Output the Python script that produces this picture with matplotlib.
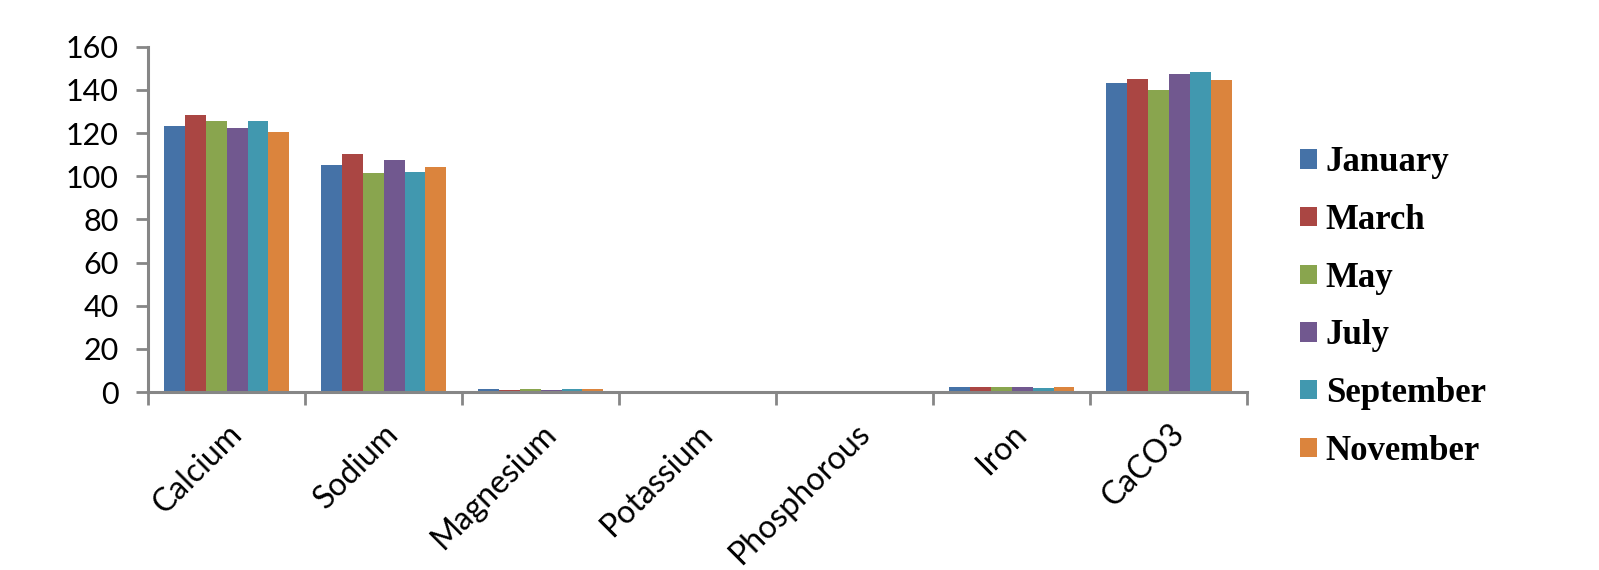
import matplotlib
matplotlib.use("Agg")
import matplotlib.pyplot as plt
import numpy as np

# categories and monthly values
minerals = ["Calcium", "Sodium", "Magnesium", "Potassium", "Phosphorous", "Iron", "CaCO3"]
months = ["January", "March", "May", "July", "September", "November"]

january = [123.1, 105.0, 1.3, 0.1, 0.1, 2.5, 143.3]
march = [128.6, 110.4, 1.2, 0.1, 0.1, 2.3, 145.2]
may = [125.7, 101.4, 1.5, 0.1, 0.1, 2.3, 140.1]
july = [122.4, 107.7, 1.0, 0.1, 0.1, 2.5, 147.4]
september = [125.8, 102.2, 1.4, 0.1, 0.1, 1.9, 148.5]
november = [120.3, 104.3, 1.3, 0.1, 0.1, 2.2, 144.7]

series = [january, march, may, july, september, november]
colors = ["#4572A7", "#AA4643", "#89A54E", "#71588F", "#4198AF", "#DB843D"]

fig = plt.figure(figsize=(15.99, 5.70), dpi=100)
ax = fig.add_axes([0.0926, 0.312, 0.6874, 0.606])

x = np.arange(len(minerals))
width = 0.8 / len(series)
for i, (vals, col, name) in enumerate(zip(series, colors, months)):
    ax.bar(x - 0.4 + width * (i + 0.5), vals, width, color=col, label=name, linewidth=0)

axis_gray = "#868686"
ax.set_xlim(-0.5, len(minerals) - 0.5)
ax.set_ylim(0, 160)
ax.set_yticks(range(0, 161, 20))
for side in ["top", "right"]:
    ax.spines[side].set_visible(False)
for side in ["left", "bottom"]:
    ax.spines[side].set_color(axis_gray)
    ax.spines[side].set_linewidth(2.2)

# boundaries get tick marks, centres get the labels
ax.set_xticks(np.arange(-0.5, len(minerals)), minor=False)
ax.set_xticklabels([])
ax.set_xticks(x, minor=True)
ax.set_xticklabels(minerals, minor=True, rotation=45, ha="right", rotation_mode="anchor",
                   fontsize=23, fontfamily="Lato")
ax.tick_params(axis="x", which="major", length=9, width=2, color=axis_gray)
ax.tick_params(axis="x", which="minor", length=0, pad=19)
ax.tick_params(axis="y", length=9, width=2, color=axis_gray, pad=12, labelsize=22)
for lbl in ax.get_yticklabels():
    lbl.set_fontfamily("Lato")

fig.legend(loc="upper left", bbox_to_anchor=(0.7935, 0.798), frameon=False,
           prop={"family": "Liberation Serif", "weight": "bold", "size": 25},
           handlelength=0.48, handleheight=0.48, handletextpad=0.26, labelspacing=0.71)

fig.savefig("out.png", dpi=100)
